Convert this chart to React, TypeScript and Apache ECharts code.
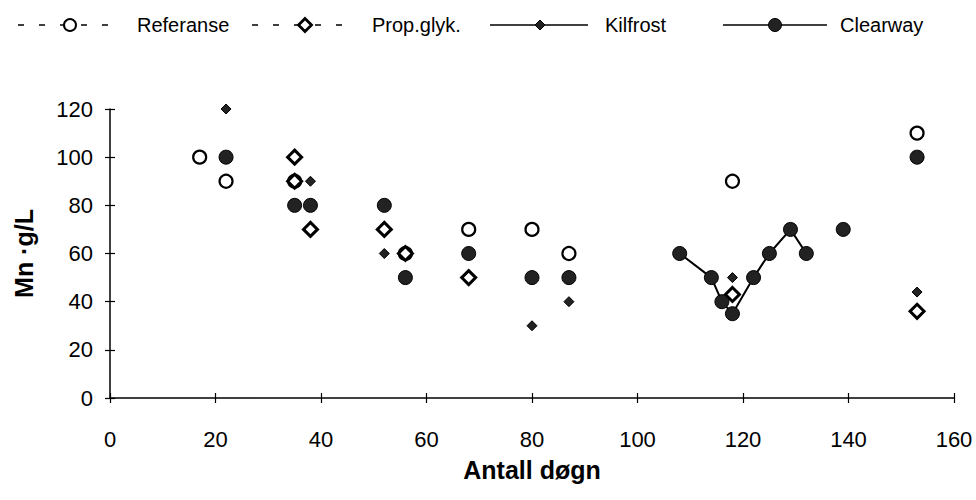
import React, { useEffect, useRef } from "react";
import * as echarts from "echarts";

// Data (x = Antall døgn, y = Mn ·g/L)
const referanse: [number, number][] = [
  [17, 100], [22, 90], [35, 90], [56, 60], [68, 70], [80, 70], [87, 60], [118, 90], [153, 110],
];
const propGlyk: [number, number][] = [
  [35, 100], [35, 90], [38, 70], [52, 70], [56, 60], [68, 50], [118, 43], [153, 36],
];
const kilfrost: [number, number][] = [
  [22, 120], [38, 90], [52, 60], [80, 30], [87, 40], [118, 50], [153, 44],
];
const clearwayPoints: [number, number][] = [
  [22, 100], [35, 80], [38, 80], [52, 80], [56, 50], [68, 60], [80, 50], [87, 50], [139, 70], [153, 100],
];
const clearwayRun: [number, number][] = [
  [108, 60], [114, 50], [116, 40], [118, 35], [122, 50], [125, 60], [129, 70], [132, 60],
];
const legendNames = ["Referanse", "Prop.glyk.", "Kilfrost", "Clearway"];

const FONT = "'Liberation Sans', Arial, Helvetica, sans-serif";

function diamond(cx: number, cy: number, r: number) {
  return [[cx, cy - r], [cx + r, cy], [cx, cy + r], [cx - r, cy]];
}

export default function App() {
  const ref = useRef<HTMLDivElement>(null);
  useEffect(() => {
    if (!ref.current) return;
    const chart = echarts.init(ref.current, null, { renderer: "svg" });
    const ly = 25;
    const legendGraphic: any[] = [
      // Referanse
      { type: "line", shape: { x1: 18, y1: ly, x2: 112, y2: ly }, style: { stroke: "#000", lineWidth: 1.5, lineDash: [6, 15] } },
      { type: "circle", shape: { cx: 70, cy: ly, r: 6 }, style: { fill: "#fff", stroke: "#000", lineWidth: 2 } },
      { type: "text", x: 137, y: ly, style: { text: legendNames[0], font: `20px ${FONT}`, fill: "#000", verticalAlign: "middle" } },
      // Prop.glyk.
      { type: "line", shape: { x1: 252, y1: ly, x2: 347, y2: ly }, style: { stroke: "#000", lineWidth: 1.5, lineDash: [6, 15] } },
      { type: "polygon", shape: { points: diamond(305, ly, 6.5) }, style: { fill: "#fff", stroke: "#000", lineWidth: 2.8 } },
      { type: "text", x: 372, y: ly, style: { text: legendNames[1], font: `20px ${FONT}`, fill: "#000", verticalAlign: "middle" } },
      // Kilfrost
      { type: "line", shape: { x1: 490, y1: ly, x2: 588, y2: ly }, style: { stroke: "#000", lineWidth: 1.5 } },
      { type: "polygon", shape: { points: diamond(540, ly, 5) }, style: { fill: "#222", stroke: "#000", lineWidth: 1 } },
      { type: "text", x: 605, y: ly, style: { text: legendNames[2], font: `20px ${FONT}`, fill: "#000", verticalAlign: "middle" } },
      // Clearway
      { type: "line", shape: { x1: 723, y1: ly, x2: 827, y2: ly }, style: { stroke: "#000", lineWidth: 1.5 } },
      { type: "circle", shape: { cx: 775, cy: ly, r: 6.5 }, style: { fill: "#222", stroke: "#000", lineWidth: 1 } },
      { type: "text", x: 840, y: ly, style: { text: legendNames[3], font: `20px ${FONT}`, fill: "#000", verticalAlign: "middle" } },
    ];

    const xBase = {
      type: "value",
      min: 0,
      max: 160,
      interval: 20,
      splitLine: { show: false },
    };
    const yBase = {
      type: "value",
      min: 0,
      max: 120,
      interval: 20,
      splitLine: { show: false },
    };

    chart.setOption({
      animation: false,
      backgroundColor: "#fff",
      textStyle: { fontFamily: FONT },
      grid: { left: 110, right: 22, top: 109, bottom: 102, containLabel: false },
      graphic: legendGraphic,
      xAxis: [
        {
          ...xBase,
          name: "Antall døgn",
          nameLocation: "middle",
          nameGap: 59,
          nameTextStyle: { fontSize: 25, fontWeight: "bold", color: "#000", fontFamily: FONT },
          axisLine: { show: true, lineStyle: { color: "#000", width: 1.5 } },
          axisTick: { show: true, inside: false, length: 5, lineStyle: { color: "#000", width: 1.2 } },
          axisLabel: { show: true, margin: 30, fontSize: 22, color: "#000", fontFamily: FONT },
        },
        {
          ...xBase,
          position: "bottom",
          axisLine: { show: false },
          axisTick: { show: true, inside: true, length: 5, lineStyle: { color: "#000", width: 1.2 } },
          axisLabel: { show: false },
        },
      ],
      yAxis: [
        {
          ...yBase,
          name: "Mn ·g/L",
          nameLocation: "middle",
          nameGap: 74,
          nameRotate: 90,
          nameTextStyle: { fontSize: 25, fontWeight: "bold", color: "#000", fontFamily: FONT },
          axisLine: { show: true, lineStyle: { color: "#000", width: 1.5 } },
          axisTick: { show: true, inside: false, length: 5, lineStyle: { color: "#000", width: 1.2 } },
          axisLabel: { show: true, margin: 17, fontSize: 22, color: "#000", fontFamily: FONT },
        },
        {
          ...yBase,
          position: "left",
          axisLine: { show: false },
          axisTick: { show: true, inside: true, length: 5, lineStyle: { color: "#000", width: 1.2 } },
          axisLabel: { show: false },
        },
      ],
      series: [
        {
          name: "Referanse",
          type: "scatter",
          data: referanse,
          symbol: "circle",
          symbolSize: 13,
          itemStyle: { color: "#fff", borderColor: "#000", borderWidth: 2.2, opacity: 1 },
        },
        {
          name: "Prop.glyk.",
          type: "scatter",
          data: propGlyk,
          symbol: "diamond",
          symbolSize: 14,
          itemStyle: { color: "#fff", borderColor: "#000", borderWidth: 3, opacity: 1 },
        },
        {
          name: "Kilfrost",
          type: "scatter",
          data: kilfrost,
          symbol: "diamond",
          symbolSize: 10,
          itemStyle: { color: "#222", borderColor: "#000", borderWidth: 1, opacity: 1 },
        },
        {
          name: "Clearway",
          type: "scatter",
          data: clearwayPoints,
          symbol: "circle",
          symbolSize: 14,
          itemStyle: { color: "#222", borderColor: "#000", borderWidth: 1, opacity: 1 },
        },
        {
          name: "Clearway",
          type: "line",
          data: clearwayRun,
          symbol: "circle",
          symbolSize: 14,
          showSymbol: true,
          lineStyle: { color: "#000", width: 2 },
          itemStyle: { color: "#222", borderColor: "#000", borderWidth: 1 },
        },
      ],
    });
    return () => chart.dispose();
  }, []);
  return (
    <div
      ref={ref}
      style={{ position: "fixed", left: 0, top: 0, width: 976, height: 500, background: "#fff" }}
    />
  );
}
